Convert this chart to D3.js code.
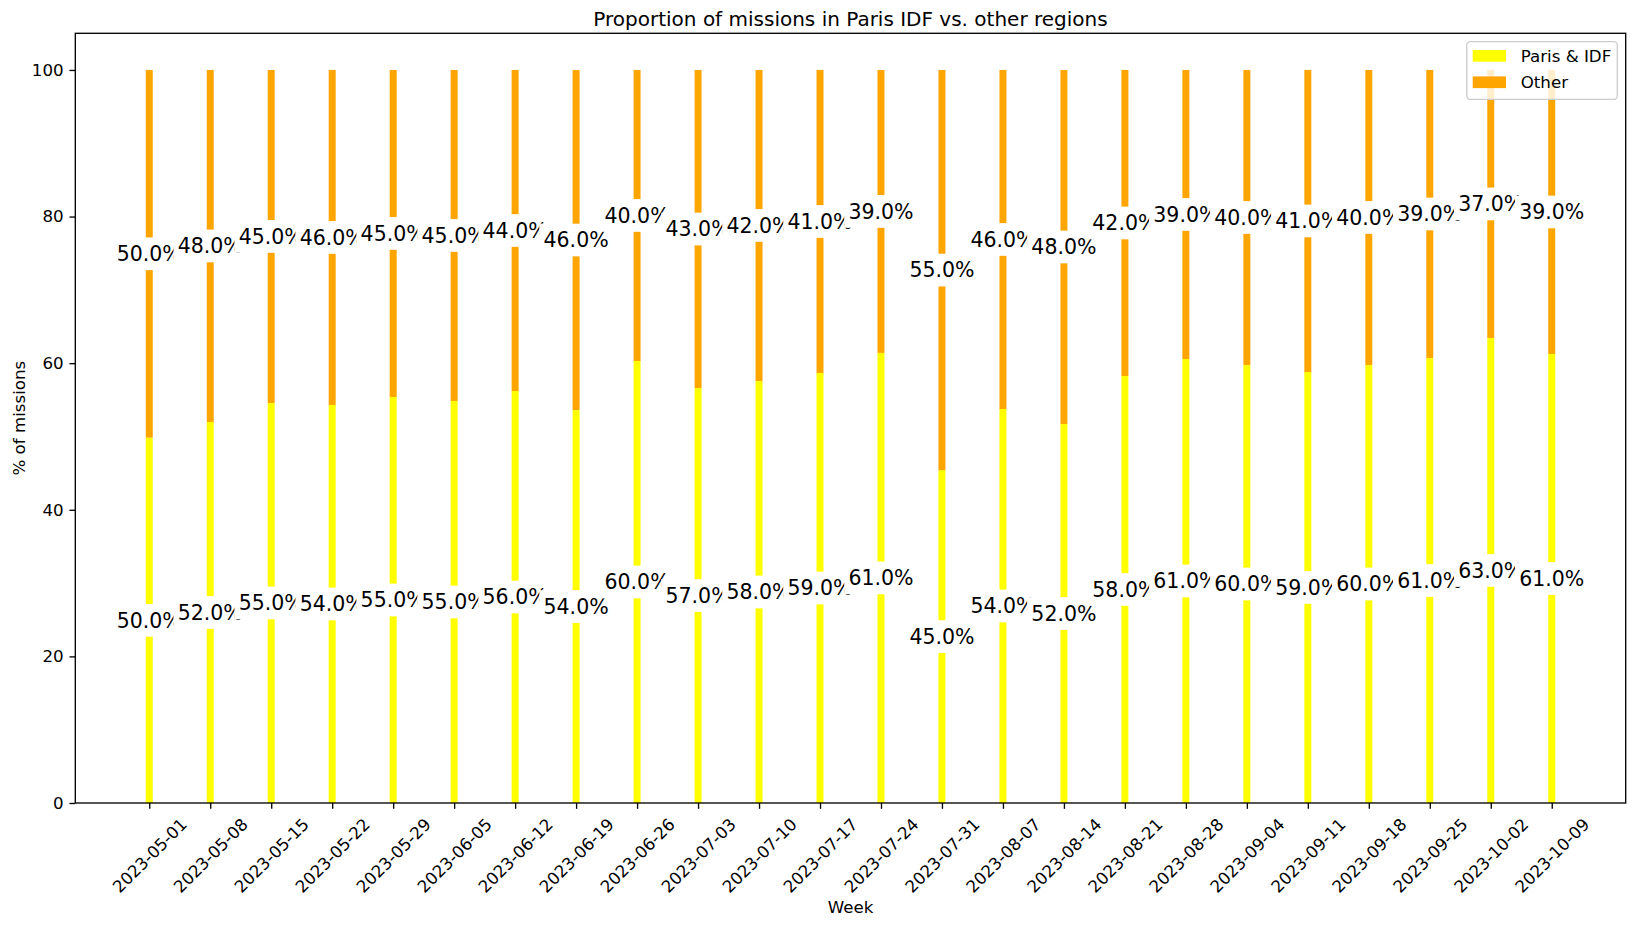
<!DOCTYPE html>
<html><head><meta charset="utf-8">
<script src="https://cdn.jsdelivr.net/npm/d3@7"></script>
<style>body{margin:0;background:#fff} text{font-family:"DejaVu Sans",sans-serif;fill:#000}</style>
</head><body><svg id="c" width="1634" height="927"></svg>
<script>
const weeks = ["2023-05-01","2023-05-08","2023-05-15","2023-05-22","2023-05-29","2023-06-05","2023-06-12","2023-06-19","2023-06-26","2023-07-03","2023-07-10","2023-07-17","2023-07-24","2023-07-31","2023-08-07","2023-08-14","2023-08-21","2023-08-28","2023-09-04","2023-09-11","2023-09-18","2023-09-25","2023-10-02","2023-10-09"];
const parisPct = [49.84,51.98,54.57,54.3,55.39,54.84,56.2,53.6,60.3,56.6,57.57,58.66,61.4,45.4,53.75,51.7,58.25,60.57,59.75,58.8,59.75,60.7,63.44,61.25];
const otherPct = [50.16,48.02,45.43,45.7,44.61,45.16,43.8,46.4,39.7,43.4,42.43,41.34,38.6,54.6,46.25,48.3,41.75,39.43,40.25,41.2,40.25,39.3,36.56,38.75];
const yTicks = [0,20,40,60,80,100];
const seriesNames = ["Paris & IDF","Other"];
const seriesColors = ["yellow","orange"];
const titleText = "Proportion of missions in Paris IDF vs. other regions";
const xLabel = "Week", yLabel = "% of missions";

const svg = d3.select("#c");
const m = {left:75.3, right:1625.7, top:33.3, bottom:803};
const parse = d3.utcParse("%Y-%m-%d");
const fmt = d3.utcFormat("%Y-%m-%d");
const dates = weeks.map(parse);
const DAY = 864e5, barDays = 0.8;
const first = dates[0], last = dates[dates.length-1];
const span = (last-first)/DAY + barDays;
const padD = span*0.05 + barDays/2;
const x = d3.scaleUtc().domain([new Date(+first - padD*DAY), new Date(+last + padD*DAY)]).range([m.left, m.right]);
const y = d3.scaleLinear().domain([0,105]).range([m.bottom, m.top]);
const bw = x(new Date(+first + barDays*DAY)) - x(first);

const rows = weeks.map((w,i)=>({date:dates[i], paris:parisPct[i], other:otherPct[i]}));

// bars
const gb = svg.append("g");
gb.selectAll(".p").data(rows).join("rect")
  .attr("x", d=>x(d.date)-bw/2).attr("width", bw)
  .attr("y", d=>y(d.paris)).attr("height", d=>y(0)-y(d.paris))
  .attr("fill", seriesColors[0]);
gb.selectAll(".o").data(rows).join("rect")
  .attr("x", d=>x(d.date)-bw/2).attr("width", bw)
  .attr("y", d=>y(d.paris+d.other)).attr("height", d=>y(d.paris)-y(d.paris+d.other))
  .attr("fill", seriesColors[1]);

// value labels
const lbl = v => Math.round(v).toFixed(1) + "%";
const gl = svg.append("g");
function addLabel(cx, cy, t){
  const g = gl.append("g");
  const r = g.append("rect").attr("fill","#fff");
  const tx = g.append("text").attr("x",cx).attr("y",cy).attr("text-anchor","middle")
    .attr("dy","0.36em").style("font-size","20.5px").text(t);
  const w = tx.node().getComputedTextLength();
  const pad = 4.2, h = 32.7;
  r.attr("x", cx-w/2-pad).attr("width", w+2*pad).attr("y", cy-h/2).attr("height", h);
}
rows.forEach(d=>addLabel(x(d.date), y(d.paris/2), lbl(d.paris)));
rows.forEach(d=>addLabel(x(d.date), y(d.paris + d.other/2), lbl(d.other)));

// axes
const TS = 5.83, FS = "16.67px";
const ya = svg.append("g").attr("transform",`translate(${m.left},0)`)
  .call(d3.axisLeft(y).tickValues(yTicks).tickSize(TS).tickPadding(TS).tickSizeOuter(0));
ya.select(".domain").remove();
ya.selectAll("text").style("font-size",FS);
const xa = svg.append("g").attr("transform",`translate(0,${m.bottom})`)
  .call(d3.axisBottom(x).tickValues(dates).tickFormat(fmt).tickSize(TS).tickSizeOuter(0));
xa.select(".domain").remove();
xa.selectAll("text").style("font-size",FS).attr("y",0).attr("dy","0.35em")
  .attr("text-anchor","middle").attr("transform","translate(0,52.5) rotate(-45)");
svg.selectAll(".tick line").attr("stroke","#000").attr("stroke-width",1.33);

svg.append("rect").attr("x",m.left).attr("y",m.top).attr("width",m.right-m.left).attr("height",m.bottom-m.top)
  .attr("fill","none").attr("stroke","#000").attr("stroke-width",1.33);

// titles
svg.append("text").attr("x",(m.left+m.right)/2).attr("y",25.7).attr("text-anchor","middle")
  .style("font-size","20px").text(titleText);
svg.append("text").attr("x",(m.left+m.right)/2).attr("y",913).attr("text-anchor","middle")
  .style("font-size",FS).text(xLabel);
svg.append("text").attr("transform",`translate(25.3,${(m.top+m.bottom)/2}) rotate(-90)`).attr("text-anchor","middle")
  .style("font-size",FS).text(yLabel);

// legend
const lg = svg.append("g");
lg.append("rect").attr("x",1466.7).attr("y",41.7).attr("width",150.6).attr("height",57.6).attr("rx",3.5)
  .attr("fill","#fff").attr("fill-opacity",0.8).attr("stroke","#cccccc").attr("stroke-width",1.33);
seriesNames.forEach((n,i)=>{
  const cy = 55.8 + i*26.4;
  lg.append("rect").attr("x",1472.7).attr("y",cy-5.8).attr("width",33.3).attr("height",11.7).attr("fill",seriesColors[i]);
  lg.append("text").attr("x",1520.7).attr("y",cy).attr("dy","0.36em").style("font-size",FS).text(n);
});
</script></body></html>
